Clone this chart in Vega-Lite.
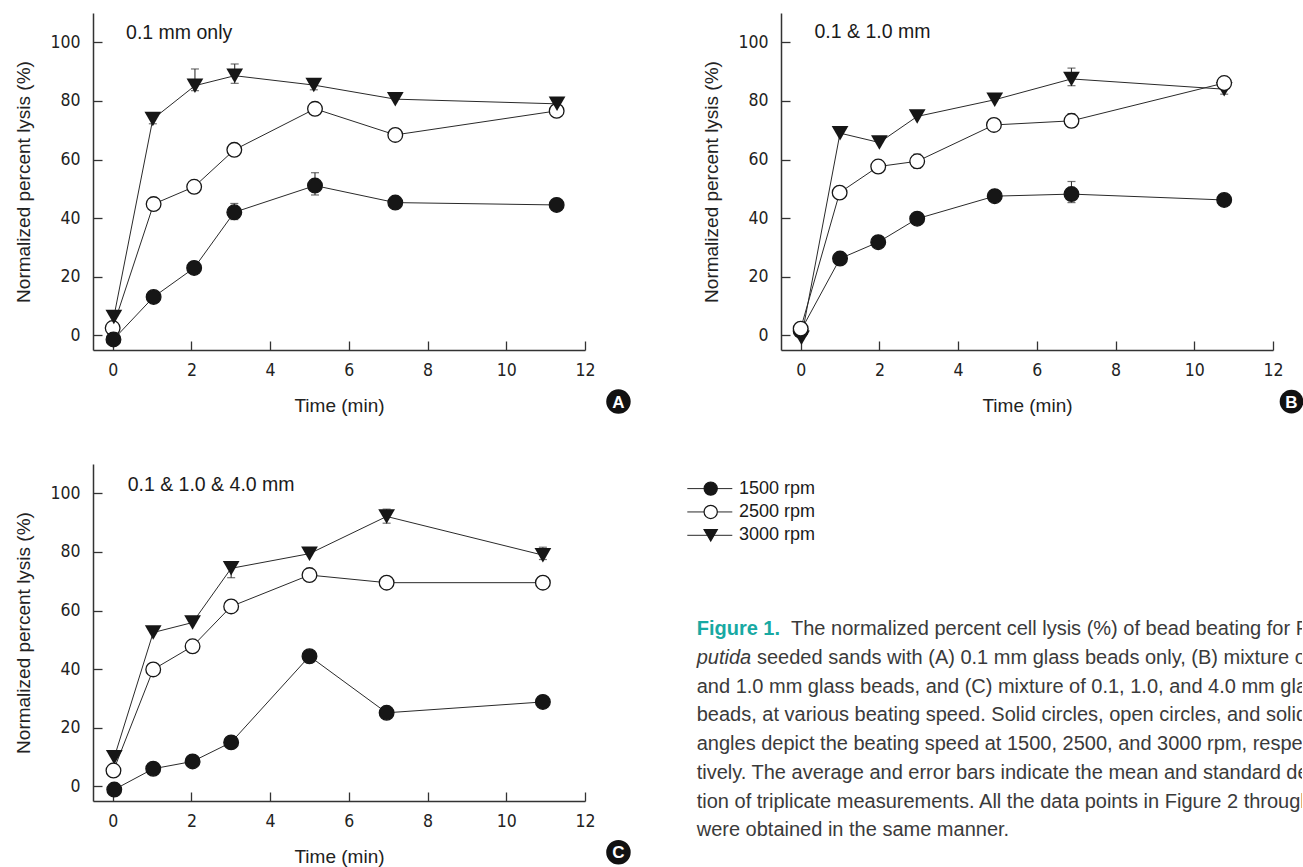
{
"$schema":"https://vega.github.io/schema/vega-lite/v6.json",
"background":"white",
"padding":{"left":14,"top":13,"right":0,"bottom":0},
"config":{
 "view":{"stroke":null},
 "font":"Liberation Sans",
 "axis":{"domainColor":"#333","domainWidth":1.5,"tickColor":"#333","tickWidth":1.3,"tickSize":-9,"labelFont":"'DejaVu Sans Condensed', 'Liberation Sans'","labelFontSize":17.5,"labelColor":"#222","titleFont":"Liberation Sans","titleFontSize":19,"titleFontWeight":"normal","titleColor":"#222","grid":false,"labelFlush":false,"labelOverlap":false}
},
"datasets":{
 "pts":[
  {"p":"A","s":"2500 rpm","t":0.0,"v":2.5},{"p":"A","s":"2500 rpm","t":1.04,"v":44.8},{"p":"A","s":"2500 rpm","t":2.07,"v":50.7},{"p":"A","s":"2500 rpm","t":3.09,"v":63.3},{"p":"A","s":"2500 rpm","t":5.14,"v":77.3},{"p":"A","s":"2500 rpm","t":7.18,"v":68.4},{"p":"A","s":"2500 rpm","t":11.28,"v":76.6},
  {"p":"A","s":"1500 rpm","t":0.02,"v":-1.4},{"p":"A","s":"1500 rpm","t":1.04,"v":13.1},{"p":"A","s":"1500 rpm","t":2.07,"v":23.0},{"p":"A","s":"1500 rpm","t":3.09,"v":42.0},{"p":"A","s":"1500 rpm","t":5.14,"v":51.1},{"p":"A","s":"1500 rpm","t":7.18,"v":45.3},{"p":"A","s":"1500 rpm","t":11.28,"v":44.5},
  {"p":"A","s":"3000 rpm","t":0.03,"v":6.3},{"p":"A","s":"3000 rpm","t":1.02,"v":73.8},{"p":"A","s":"3000 rpm","t":2.09,"v":85.2},{"p":"A","s":"3000 rpm","t":3.10,"v":88.6},{"p":"A","s":"3000 rpm","t":5.11,"v":85.4},{"p":"A","s":"3000 rpm","t":7.18,"v":80.6},{"p":"A","s":"3000 rpm","t":11.29,"v":79.0},
  {"p":"B","s":"3000 rpm","t":0.02,"v":-0.8},{"p":"B","s":"3000 rpm","t":1.0,"v":69.0},{"p":"B","s":"3000 rpm","t":2.0,"v":65.8},{"p":"B","s":"3000 rpm","t":2.96,"v":74.7},{"p":"B","s":"3000 rpm","t":4.93,"v":80.4},{"p":"B","s":"3000 rpm","t":6.88,"v":87.5},{"p":"B","s":"3000 rpm","t":10.76,"v":84.0},
  {"p":"B","s":"1500 rpm","t":0.0,"v":1.5},{"p":"B","s":"1500 rpm","t":1.0,"v":26.2},{"p":"B","s":"1500 rpm","t":1.97,"v":31.8},{"p":"B","s":"1500 rpm","t":2.96,"v":39.8},{"p":"B","s":"1500 rpm","t":4.93,"v":47.5},{"p":"B","s":"1500 rpm","t":6.88,"v":48.2},{"p":"B","s":"1500 rpm","t":10.76,"v":46.2},
  {"p":"B","s":"2500 rpm","t":0.0,"v":2.3},{"p":"B","s":"2500 rpm","t":0.99,"v":48.7},{"p":"B","s":"2500 rpm","t":1.97,"v":57.6},{"p":"B","s":"2500 rpm","t":2.96,"v":59.4},{"p":"B","s":"2500 rpm","t":4.91,"v":71.8},{"p":"B","s":"2500 rpm","t":6.88,"v":73.2},{"p":"B","s":"2500 rpm","t":10.76,"v":86.1},
  {"p":"C","s":"3000 rpm","t":0.04,"v":9.9},{"p":"C","s":"3000 rpm","t":1.03,"v":52.5},{"p":"C","s":"3000 rpm","t":2.03,"v":55.9},{"p":"C","s":"3000 rpm","t":3.01,"v":74.4},{"p":"C","s":"3000 rpm","t":5.0,"v":79.4},{"p":"C","s":"3000 rpm","t":6.96,"v":92.1},{"p":"C","s":"3000 rpm","t":10.93,"v":78.9},
  {"p":"C","s":"2500 rpm","t":0.02,"v":5.4},{"p":"C","s":"2500 rpm","t":1.03,"v":39.9},{"p":"C","s":"2500 rpm","t":2.03,"v":47.8},{"p":"C","s":"2500 rpm","t":3.01,"v":61.4},{"p":"C","s":"2500 rpm","t":5.0,"v":72.1},{"p":"C","s":"2500 rpm","t":6.96,"v":69.5},{"p":"C","s":"2500 rpm","t":10.93,"v":69.5},
  {"p":"C","s":"1500 rpm","t":0.04,"v":-1.1},{"p":"C","s":"1500 rpm","t":1.03,"v":6.0},{"p":"C","s":"1500 rpm","t":2.03,"v":8.5},{"p":"C","s":"1500 rpm","t":3.01,"v":15.0},{"p":"C","s":"1500 rpm","t":5.0,"v":44.4},{"p":"C","s":"1500 rpm","t":6.96,"v":25.1},{"p":"C","s":"1500 rpm","t":10.93,"v":28.8}
 ],
 "err":[
  {"p":"A","t":1.02,"lo":72.2,"hi":75.4},{"p":"A","t":2.09,"lo":83.5,"hi":90.9},{"p":"A","t":3.10,"lo":86.0,"hi":92.6},{"p":"A","t":5.11,"lo":83.8,"hi":86.8},{"p":"A","t":3.09,"lo":39.5,"hi":45.0},{"p":"A","t":5.14,"lo":47.9,"hi":55.5},
  {"p":"B","t":6.88,"lo":85.2,"hi":91.2},{"p":"B","t":6.88,"lo":71.0,"hi":75.6},{"p":"B","t":2.96,"lo":57.0,"hi":61.8},{"p":"B","t":4.91,"lo":70.0,"hi":73.6},{"p":"B","t":6.88,"lo":45.3,"hi":52.5},{"p":"B","t":10.76,"lo":82.3,"hi":85.7},
  {"p":"C","t":3.01,"lo":71.2,"hi":76.3},{"p":"C","t":6.96,"lo":89.8,"hi":94.6},{"p":"C","t":10.93,"lo":77.4,"hi":81.6}
 ],
 "leg":[{"rpm":"1500 rpm"},{"rpm":"2500 rpm"},{"rpm":"3000 rpm"}],
 "cap":[
  {"line":1,"seg":"head","text":"Figure 1."},
  {"line":1,"seg":"body","text":"The normalized percent cell lysis (%) of bead beating for P."},
  {"line":2,"seg":"head","text":"putida"},
  {"line":2,"seg":"body","text":"seeded sands with (A) 0.1 mm glass beads only, (B) mixture of 0.1"},
  {"line":3,"seg":"full","text":"and 1.0 mm glass beads, and (C) mixture of 0.1, 1.0, and 4.0 mm glass"},
  {"line":4,"seg":"full","text":"beads, at various beating speed. Solid circles, open circles, and solid tri-"},
  {"line":5,"seg":"full","text":"angles depict the beating speed at 1500, 2500, and 3000 rpm, respec-"},
  {"line":6,"seg":"full","text":"tively. The average and error bars indicate the mean and standard devia-"},
  {"line":7,"seg":"full","text":"tion of triplicate measurements. All the data points in Figure 2 through 5"},
  {"line":8,"seg":"full","text":"were obtained in the same manner."}
 ]
},
"spacing":48,
"vconcat":[
 {"hconcat":[
  {"width":492,"height":337,
   "layer":[
    {"data":{"name":"err"},"transform":[{"filter":"datum.p==='A'"}],"mark":{"type":"rule","color":"#333","strokeWidth":1.1},
     "encoding":{"x":{"field":"t","type":"quantitative","scale":{"domain":[-0.5,12],"nice":false,"zero":false},"axis":{"title":"Time (min)","values":[0,2,4,6,8,10,12],"labelPadding":20,"titlePadding":18}},
      "y":{"field":"lo","type":"quantitative","scale":{"domain":[-5,110],"nice":false,"zero":false},"axis":{"title":"Normalized percent lysis (%)","values":[0,20,40,60,80,100],"labelPadding":22,"titlePadding":16}},"y2":{"field":"hi"}}},
    {"data":{"name":"err"},"transform":[{"filter":"datum.p==='A'"}],"mark":{"type":"tick","orient":"horizontal","size":8,"thickness":1.2,"color":"#333"},
     "encoding":{"x":{"field":"t","type":"quantitative","scale":{"domain":[-0.5,12],"nice":false,"zero":false}},"y":{"field":"hi","type":"quantitative","scale":{"domain":[-5,110],"nice":false,"zero":false}}}},
    {"data":{"name":"err"},"transform":[{"filter":"datum.p==='A'"}],"mark":{"type":"tick","orient":"horizontal","size":8,"thickness":1.2,"color":"#333"},
     "encoding":{"x":{"field":"t","type":"quantitative","scale":{"domain":[-0.5,12],"nice":false,"zero":false}},"y":{"field":"lo","type":"quantitative","scale":{"domain":[-5,110],"nice":false,"zero":false}}}},
    {"data":{"name":"pts"},"transform":[{"filter":"datum.p==='A'"}],"mark":{"type":"line","color":"#2a2a2a","strokeWidth":1},
     "encoding":{"x":{"field":"t","type":"quantitative","scale":{"domain":[-0.5,12],"nice":false,"zero":false}},"y":{"field":"v","type":"quantitative","scale":{"domain":[-5,110],"nice":false,"zero":false}},"detail":{"field":"s"}}},
    {"data":{"name":"pts"},"transform":[{"filter":"datum.p==='A' && datum.s!=='3000 rpm'"}],"mark":{"type":"point","shape":"circle","size":215,"filled":true,"stroke":"#161616","strokeWidth":1.3,"opacity":1},
     "encoding":{"x":{"field":"t","type":"quantitative","scale":{"domain":[-0.5,12],"nice":false,"zero":false}},"y":{"field":"v","type":"quantitative","scale":{"domain":[-5,110],"nice":false,"zero":false}},"fill":{"field":"s","type":"nominal","scale":{"domain":["1500 rpm","2500 rpm"],"range":["#161616","#ffffff"]},"legend":null}}},
    {"data":{"name":"pts"},"transform":[{"filter":"datum.p==='A' && datum.s==='3000 rpm'"}],"mark":{"type":"point","shape":"triangle-down","size":280,"filled":true,"color":"#161616","opacity":1},
     "encoding":{"x":{"field":"t","type":"quantitative","scale":{"domain":[-0.5,12],"nice":false,"zero":false}},"y":{"field":"v","type":"quantitative","scale":{"domain":[-5,110],"nice":false,"zero":false}}}},
    {"data":{"values":[{"label":"0.1 mm only"}]},"mark":{"type":"text","align":"left","baseline":"middle","fontSize":19.5,"color":"#1a1a1a"},
     "encoding":{"x":{"datum":0.34,"type":"quantitative","scale":{"domain":[-0.5,12],"nice":false,"zero":false}},"y":{"datum":103.3,"type":"quantitative","scale":{"domain":[-5,110],"nice":false,"zero":false}},"text":{"field":"label"}}},
    {"data":{"values":[{"label":"A"}]},"mark":{"type":"point","shape":"circle","size":600,"filled":true,"color":"#111","opacity":1},
     "encoding":{"x":{"datum":12.85,"type":"quantitative","scale":{"domain":[-0.5,12],"nice":false,"zero":false}},"y":{"datum":-22.6,"type":"quantitative","scale":{"domain":[-5,110],"nice":false,"zero":false}}}},
    {"data":{"values":[{"label":"A"}]},"mark":{"type":"text","align":"center","baseline":"middle","fontSize":17,"fontWeight":"bold","color":"#ffffff","dy":1},
     "encoding":{"x":{"datum":12.85,"type":"quantitative","scale":{"domain":[-0.5,12],"nice":false,"zero":false}},"y":{"datum":-22.6,"type":"quantitative","scale":{"domain":[-5,110],"nice":false,"zero":false}},"text":{"field":"label"}}}
   ]},
  {"width":492,"height":337,
   "layer":[
    {"data":{"name":"err"},"transform":[{"filter":"datum.p==='B'"}],"mark":{"type":"rule","color":"#333","strokeWidth":1.1},
     "encoding":{"x":{"field":"t","type":"quantitative","scale":{"domain":[-0.5,12],"nice":false,"zero":false},"axis":{"title":"Time (min)","values":[0,2,4,6,8,10,12],"labelPadding":20,"titlePadding":18}},
      "y":{"field":"lo","type":"quantitative","scale":{"domain":[-5,110],"nice":false,"zero":false},"axis":{"title":"Normalized percent lysis (%)","values":[0,20,40,60,80,100],"labelPadding":22,"titlePadding":16}},"y2":{"field":"hi"}}},
    {"data":{"name":"err"},"transform":[{"filter":"datum.p==='B'"}],"mark":{"type":"tick","orient":"horizontal","size":8,"thickness":1.2,"color":"#333"},
     "encoding":{"x":{"field":"t","type":"quantitative","scale":{"domain":[-0.5,12],"nice":false,"zero":false}},"y":{"field":"hi","type":"quantitative","scale":{"domain":[-5,110],"nice":false,"zero":false}}}},
    {"data":{"name":"err"},"transform":[{"filter":"datum.p==='B'"}],"mark":{"type":"tick","orient":"horizontal","size":8,"thickness":1.2,"color":"#333"},
     "encoding":{"x":{"field":"t","type":"quantitative","scale":{"domain":[-0.5,12],"nice":false,"zero":false}},"y":{"field":"lo","type":"quantitative","scale":{"domain":[-5,110],"nice":false,"zero":false}}}},
    {"data":{"name":"pts"},"transform":[{"filter":"datum.p==='B'"}],"mark":{"type":"line","color":"#2a2a2a","strokeWidth":1},
     "encoding":{"x":{"field":"t","type":"quantitative","scale":{"domain":[-0.5,12],"nice":false,"zero":false}},"y":{"field":"v","type":"quantitative","scale":{"domain":[-5,110],"nice":false,"zero":false}},"detail":{"field":"s"}}},
    {"data":{"name":"pts"},"transform":[{"filter":"datum.p==='B' && datum.s==='3000 rpm'"}],"mark":{"type":"point","shape":"triangle-down","size":280,"filled":true,"color":"#161616","opacity":1},
     "encoding":{"x":{"field":"t","type":"quantitative","scale":{"domain":[-0.5,12],"nice":false,"zero":false}},"y":{"field":"v","type":"quantitative","scale":{"domain":[-5,110],"nice":false,"zero":false}}}},
    {"data":{"name":"pts"},"transform":[{"filter":"datum.p==='B' && datum.s!=='3000 rpm'"}],"mark":{"type":"point","shape":"circle","size":215,"filled":true,"stroke":"#161616","strokeWidth":1.3,"opacity":1},
     "encoding":{"x":{"field":"t","type":"quantitative","scale":{"domain":[-0.5,12],"nice":false,"zero":false}},"y":{"field":"v","type":"quantitative","scale":{"domain":[-5,110],"nice":false,"zero":false}},"fill":{"field":"s","type":"nominal","scale":{"domain":["1500 rpm","2500 rpm"],"range":["#161616","#ffffff"]},"legend":null}}},
    {"data":{"values":[{"label":"0.1 & 1.0 mm"}]},"mark":{"type":"text","align":"left","baseline":"middle","fontSize":19.5,"color":"#1a1a1a"},
     "encoding":{"x":{"datum":0.35,"type":"quantitative","scale":{"domain":[-0.5,12],"nice":false,"zero":false}},"y":{"datum":103.4,"type":"quantitative","scale":{"domain":[-5,110],"nice":false,"zero":false}},"text":{"field":"label"}}},
    {"data":{"values":[{"label":"B"}]},"mark":{"type":"point","shape":"circle","size":560,"filled":true,"color":"#111","opacity":1},
     "encoding":{"x":{"datum":12.47,"type":"quantitative","scale":{"domain":[-0.5,12],"nice":false,"zero":false}},"y":{"datum":-22.6,"type":"quantitative","scale":{"domain":[-5,110],"nice":false,"zero":false}}}},
    {"data":{"values":[{"label":"B"}]},"mark":{"type":"text","align":"center","baseline":"middle","fontSize":17,"fontWeight":"bold","color":"#ffffff","dy":1},
     "encoding":{"x":{"datum":12.47,"type":"quantitative","scale":{"domain":[-0.5,12],"nice":false,"zero":false}},"y":{"datum":-22.6,"type":"quantitative","scale":{"domain":[-5,110],"nice":false,"zero":false}},"text":{"field":"label"}}}
   ]}
 ],"spacing":196,"bounds":"flush"},
 {"hconcat":[
  {"width":492,"height":337,
   "layer":[
    {"data":{"name":"err"},"transform":[{"filter":"datum.p==='C'"}],"mark":{"type":"rule","color":"#333","strokeWidth":1.1},
     "encoding":{"x":{"field":"t","type":"quantitative","scale":{"domain":[-0.5,12],"nice":false,"zero":false},"axis":{"title":"Time (min)","values":[0,2,4,6,8,10,12],"labelPadding":20,"titlePadding":18}},
      "y":{"field":"lo","type":"quantitative","scale":{"domain":[-5,110],"nice":false,"zero":false},"axis":{"title":"Normalized percent lysis (%)","values":[0,20,40,60,80,100],"labelPadding":22,"titlePadding":16}},"y2":{"field":"hi"}}},
    {"data":{"name":"err"},"transform":[{"filter":"datum.p==='C'"}],"mark":{"type":"tick","orient":"horizontal","size":8,"thickness":1.2,"color":"#333"},
     "encoding":{"x":{"field":"t","type":"quantitative","scale":{"domain":[-0.5,12],"nice":false,"zero":false}},"y":{"field":"hi","type":"quantitative","scale":{"domain":[-5,110],"nice":false,"zero":false}}}},
    {"data":{"name":"err"},"transform":[{"filter":"datum.p==='C'"}],"mark":{"type":"tick","orient":"horizontal","size":8,"thickness":1.2,"color":"#333"},
     "encoding":{"x":{"field":"t","type":"quantitative","scale":{"domain":[-0.5,12],"nice":false,"zero":false}},"y":{"field":"lo","type":"quantitative","scale":{"domain":[-5,110],"nice":false,"zero":false}}}},
    {"data":{"name":"pts"},"transform":[{"filter":"datum.p==='C'"}],"mark":{"type":"line","color":"#2a2a2a","strokeWidth":1},
     "encoding":{"x":{"field":"t","type":"quantitative","scale":{"domain":[-0.5,12],"nice":false,"zero":false}},"y":{"field":"v","type":"quantitative","scale":{"domain":[-5,110],"nice":false,"zero":false}},"detail":{"field":"s"}}},
    {"data":{"name":"pts"},"transform":[{"filter":"datum.p==='C' && datum.s==='3000 rpm'"}],"mark":{"type":"point","shape":"triangle-down","size":280,"filled":true,"color":"#161616","opacity":1},
     "encoding":{"x":{"field":"t","type":"quantitative","scale":{"domain":[-0.5,12],"nice":false,"zero":false}},"y":{"field":"v","type":"quantitative","scale":{"domain":[-5,110],"nice":false,"zero":false}}}},
    {"data":{"name":"pts"},"transform":[{"filter":"datum.p==='C' && datum.s!=='3000 rpm'"}],"mark":{"type":"point","shape":"circle","size":215,"filled":true,"stroke":"#161616","strokeWidth":1.3,"opacity":1},
     "encoding":{"x":{"field":"t","type":"quantitative","scale":{"domain":[-0.5,12],"nice":false,"zero":false}},"y":{"field":"v","type":"quantitative","scale":{"domain":[-5,110],"nice":false,"zero":false}},"fill":{"field":"s","type":"nominal","scale":{"domain":["1500 rpm","2500 rpm"],"range":["#161616","#ffffff"]},"legend":null}}},
    {"data":{"values":[{"label":"0.1 & 1.0 & 4.0 mm"}]},"mark":{"type":"text","align":"left","baseline":"middle","fontSize":19.5,"color":"#1a1a1a"},
     "encoding":{"x":{"datum":0.38,"type":"quantitative","scale":{"domain":[-0.5,12],"nice":false,"zero":false}},"y":{"datum":102.8,"type":"quantitative","scale":{"domain":[-5,110],"nice":false,"zero":false}},"text":{"field":"label"}}},
    {"data":{"values":[{"label":"C"}]},"mark":{"type":"point","shape":"circle","size":600,"filled":true,"color":"#111","opacity":1},
     "encoding":{"x":{"datum":12.85,"type":"quantitative","scale":{"domain":[-0.5,12],"nice":false,"zero":false}},"y":{"datum":-22.5,"type":"quantitative","scale":{"domain":[-5,110],"nice":false,"zero":false}}}},
    {"data":{"values":[{"label":"C"}]},"mark":{"type":"text","align":"center","baseline":"middle","fontSize":17,"fontWeight":"bold","color":"#ffffff","dy":1},
     "encoding":{"x":{"datum":12.85,"type":"quantitative","scale":{"domain":[-0.5,12],"nice":false,"zero":false}},"y":{"datum":-22.5,"type":"quantitative","scale":{"domain":[-5,110],"nice":false,"zero":false}},"text":{"field":"label"}}}
   ]},
  {"width":617,"height":390,
   "resolve":{"scale":{"y":"independent"}},
   "layer":[
    {"data":{"name":"leg"},"mark":{"type":"rule","color":"#2a2a2a","strokeWidth":1},
     "encoding":{"x":{"datum":2.3,"type":"quantitative","scale":{"domain":[0,617],"nice":false,"zero":false},"axis":null},"x2":{"datum":47.3},
      "y":{"field":"rpm","type":"nominal","scale":{"type":"point","domain":["1500 rpm","2500 rpm","3000 rpm"],"range":[24.6,71.3],"padding":0},"axis":null}}},
    {"data":{"name":"leg"},"mark":{"type":"point","size":175,"filled":true,"stroke":"#161616","strokeWidth":1.2,"opacity":1},
     "encoding":{"x":{"datum":25.7,"type":"quantitative","scale":{"domain":[0,617],"nice":false,"zero":false},"axis":null},
      "y":{"field":"rpm","type":"nominal","scale":{"type":"point","domain":["1500 rpm","2500 rpm","3000 rpm"],"range":[24.6,71.3],"padding":0},"axis":null},
      "shape":{"field":"rpm","type":"nominal","scale":{"domain":["1500 rpm","2500 rpm","3000 rpm"],"range":["circle","circle","triangle-down"]},"legend":null},
      "fill":{"field":"rpm","type":"nominal","scale":{"domain":["1500 rpm","2500 rpm","3000 rpm"],"range":["#161616","#ffffff","#161616"]},"legend":null}}},
    {"data":{"name":"leg"},"mark":{"type":"text","align":"left","baseline":"middle","fontSize":18,"color":"#1a1a1a"},
     "encoding":{"x":{"datum":54,"type":"quantitative","scale":{"domain":[0,617],"nice":false,"zero":false},"axis":null},
      "y":{"field":"rpm","type":"nominal","scale":{"type":"point","domain":["1500 rpm","2500 rpm","3000 rpm"],"range":[24.6,71.3],"padding":0},"axis":null},
      "text":{"field":"rpm"}}},
    {"data":{"name":"cap"},"transform":[{"filter":"datum.seg==='full'"}],"mark":{"type":"text","align":"left","baseline":"alphabetic","fontSize":20,"color":"#3a3a3a","clip":true},
     "encoding":{"x":{"datum":11.7,"type":"quantitative","scale":{"domain":[0,617],"nice":false,"zero":false},"axis":null},
      "y":{"field":"line","type":"quantitative","scale":{"domain":[1,8],"range":[171,372.3],"nice":false,"zero":false},"axis":null},"text":{"field":"text"}}},
    {"data":{"name":"cap"},"transform":[{"filter":"datum.seg==='head' && datum.line===1"}],"mark":{"type":"text","align":"left","baseline":"alphabetic","fontSize":20,"fontWeight":"bold","color":"#18a9a3","clip":true},
     "encoding":{"x":{"datum":11.7,"type":"quantitative","scale":{"domain":[0,617],"nice":false,"zero":false},"axis":null},
      "y":{"field":"line","type":"quantitative","scale":{"domain":[1,8],"range":[171,372.3],"nice":false,"zero":false},"axis":null},"text":{"field":"text"}}},
    {"data":{"name":"cap"},"transform":[{"filter":"datum.seg==='head' && datum.line===2"}],"mark":{"type":"text","align":"left","baseline":"alphabetic","fontSize":20,"fontStyle":"italic","color":"#3a3a3a","clip":true},
     "encoding":{"x":{"datum":11.7,"type":"quantitative","scale":{"domain":[0,617],"nice":false,"zero":false},"axis":null},
      "y":{"field":"line","type":"quantitative","scale":{"domain":[1,8],"range":[171,372.3],"nice":false,"zero":false},"axis":null},"text":{"field":"text"}}},
    {"data":{"name":"cap"},"transform":[{"filter":"datum.seg==='body' && datum.line===1"}],"mark":{"type":"text","align":"left","baseline":"alphabetic","fontSize":20,"color":"#3a3a3a","clip":true},
     "encoding":{"x":{"datum":106,"type":"quantitative","scale":{"domain":[0,617],"nice":false,"zero":false},"axis":null},
      "y":{"field":"line","type":"quantitative","scale":{"domain":[1,8],"range":[171,372.3],"nice":false,"zero":false},"axis":null},"text":{"field":"text"}}},
    {"data":{"name":"cap"},"transform":[{"filter":"datum.seg==='body' && datum.line===2"}],"mark":{"type":"text","align":"left","baseline":"alphabetic","fontSize":20,"color":"#3a3a3a","clip":true},
     "encoding":{"x":{"datum":72,"type":"quantitative","scale":{"domain":[0,617],"nice":false,"zero":false},"axis":null},
      "y":{"field":"line","type":"quantitative","scale":{"domain":[1,8],"range":[171,372.3],"nice":false,"zero":false},"axis":null},"text":{"field":"text"}}}
   ]}
 ],"spacing":100,"bounds":"flush"}
]
}
